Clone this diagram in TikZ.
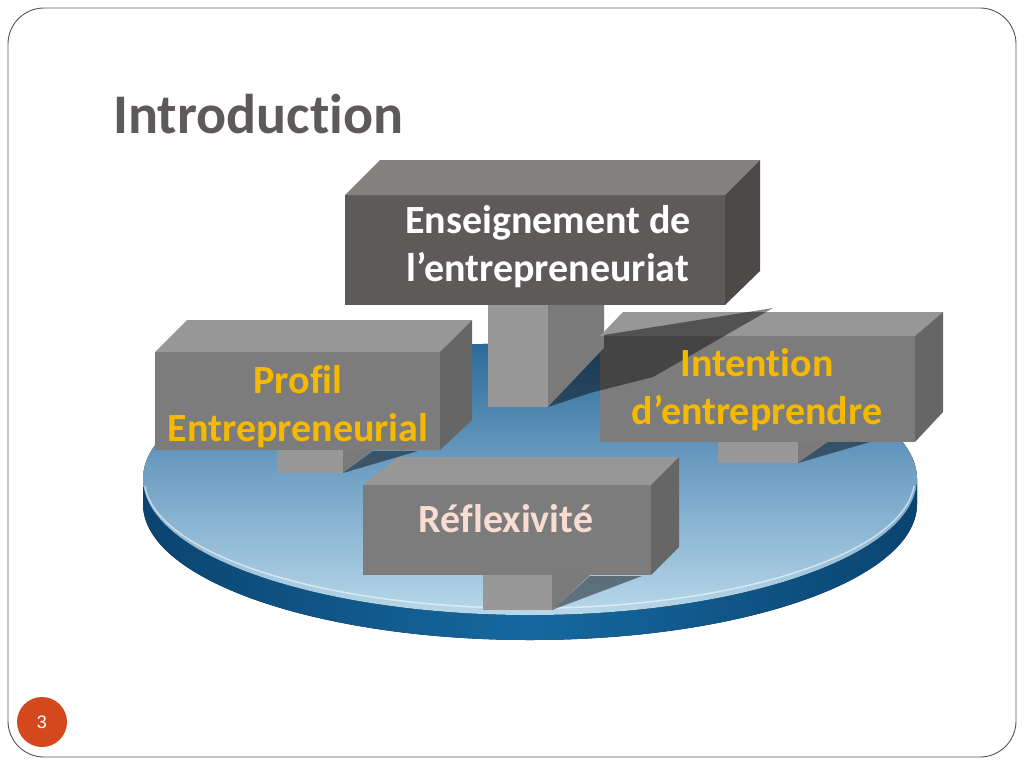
\documentclass[tikz,border=0pt]{standalone}
\usepackage{fontspec}
\setmainfont{Carlito}[Ligatures={NoCommon}]
\newfontfamily\numfont{Liberation Sans}
\definecolor{titlegray}{HTML}{5E5A5A}
\definecolor{dkfront}{HTML}{5F5A5A}
\definecolor{dktop}{HTML}{858181}
\definecolor{dkside}{HTML}{4D4949}
\definecolor{gfront}{HTML}{7C7C7C}
\definecolor{gtop}{HTML}{979797}
\definecolor{gside}{HTML}{666666}
\definecolor{sfront}{HTML}{989898}
\definecolor{sside}{HTML}{7A7A7A}
\definecolor{gold}{HTML}{F7B900}
\definecolor{pinktext}{HTML}{F9DCD2}
\definecolor{discdark}{HTML}{2A6A9A}
\definecolor{discmid}{HTML}{74A3C6}
\definecolor{disclight}{HTML}{B8D8EA}
\definecolor{rimdark}{HTML}{0A4470}
\definecolor{rimmid}{HTML}{1569A0}
\definecolor{pagecircle}{HTML}{D4481E}
\definecolor{borderc}{HTML}{555555}
\begin{document}
\begin{tikzpicture}[x=1pt,y=-1pt,
  frontface/.style={fill=gfront},
  topface/.style={fill=gtop},
  sideface/.style={fill=gside},
  stemfront/.style={fill=sfront},
  stemside/.style={fill=sside},
  castshadow/.style={fill=black,fill opacity=0.45},
  boxtext/.style={font=\fontsize{40}{48}\selectfont\bfseries,align=center,inner sep=0pt},
]
\useasboundingbox (0,0) rectangle (1024,768);
\fill[white] (0,0) rectangle (1024,768);
\draw[borderc,line width=0.9pt,rounded corners=36pt] (8,8) rectangle (1016,757);

% title
\node[anchor=base west,inner sep=0pt,text=titlegray,font=\fontsize{56}{64}\selectfont\bfseries] (title) at (113,133) {Introduction};

% disc
\fill[left color=rimdark,right color=rimdark,middle color=rimmid] (143,479) -- (143,504) arc[start angle=180,end angle=0,x radius=387,y radius=136] -- (917,479) -- cycle;
\fill[top color=discdark,bottom color=disclight,middle color=discmid] (530,479) ellipse[x radius=387,y radius=136];
\draw[white,opacity=0.55,line width=1.5pt] (145,486) arc[start angle=177,end angle=3,x radius=385,y radius=129];

% top box stem
\fill[stemfront] (488,305) rectangle (548,407);
\fill[stemside] (548,305) -- (604,305) -- (604,348) -- (548,407) -- cycle;
% top box
\fill[fill=dkfront] (345,195) rectangle (725,305);
\fill[fill=dktop] (345,195) -- (380,160) -- (760,160) -- (725,195) -- cycle;
\fill[fill=dkside] (725,195) -- (760,160) -- (760,271) -- (725,305) -- cycle;

% Profil stem + box
\fill[stemfront] (277,450) rectangle (343,473);
\fill[stemside] (343,450) -- (373,450) -- (343,473) -- cycle;
\fill[castshadow] (343,473) -- (373,451) -- (418,451) -- cycle;
\fill[frontface] (155,352) rectangle (440,450);
\fill[topface] (155,352) -- (187,320) -- (472,320) -- (440,352) -- cycle;
\fill[sideface] (440,352) -- (472,320) -- (472,420) -- (440,450) -- cycle;

% Intention stem + box
\fill[stemfront] (718,442) rectangle (798,463);
\fill[stemside] (798,442) -- (828,442) -- (798,463) -- cycle;
\fill[castshadow] (798,463) -- (828,442) -- (870,442) -- cycle;
\fill[frontface] (600,336) rectangle (915,442);
\fill[topface] (600,336) -- (623,312) -- (943,312) -- (915,336) -- cycle;
\fill[sideface] (915,336) -- (943,312) -- (943,412) -- (915,442) -- cycle;

% shadow of top box
\fill[castshadow] (548,407) -- (604,348) -- (604,335) -- (773,308) -- (653,377) -- (590,393) -- cycle;

% Reflexivite stem + box
\fill[stemfront] (483,575) rectangle (552,610);
\fill[stemside] (552,575) -- (590,575) -- (552,610) -- cycle;
\fill[castshadow] (552,610) -- (590,576) -- (642,576) -- cycle;
\fill[frontface] (363,485) rectangle (651,575);
\fill[topface] (363,485) -- (398,457) -- (679,457) -- (651,485) -- cycle;
\fill[sideface] (651,485) -- (679,457) -- (679,547) -- (651,575) -- cycle;

% texts
\node[boxtext,text=white] (ens) at (548,247) {Enseignement de\\l’entrepreneuriat};
\node[boxtext,text=gold] (profil) at (298,407) {Profil\\Entrepreneurial};
\node[boxtext,text=gold] (intent) at (757,390) {Intention\\d’entreprendre};
\node[boxtext,text=pinktext] (reflex) at (506,519) {Réflexivité};

% page number
\fill[pagecircle] (42,722) circle[radius=25];
\node[text=white,font=\numfont\fontsize{18}{20}\selectfont,inner sep=0pt] (pnum) at (42,722) {3};
\end{tikzpicture}
\end{document}
